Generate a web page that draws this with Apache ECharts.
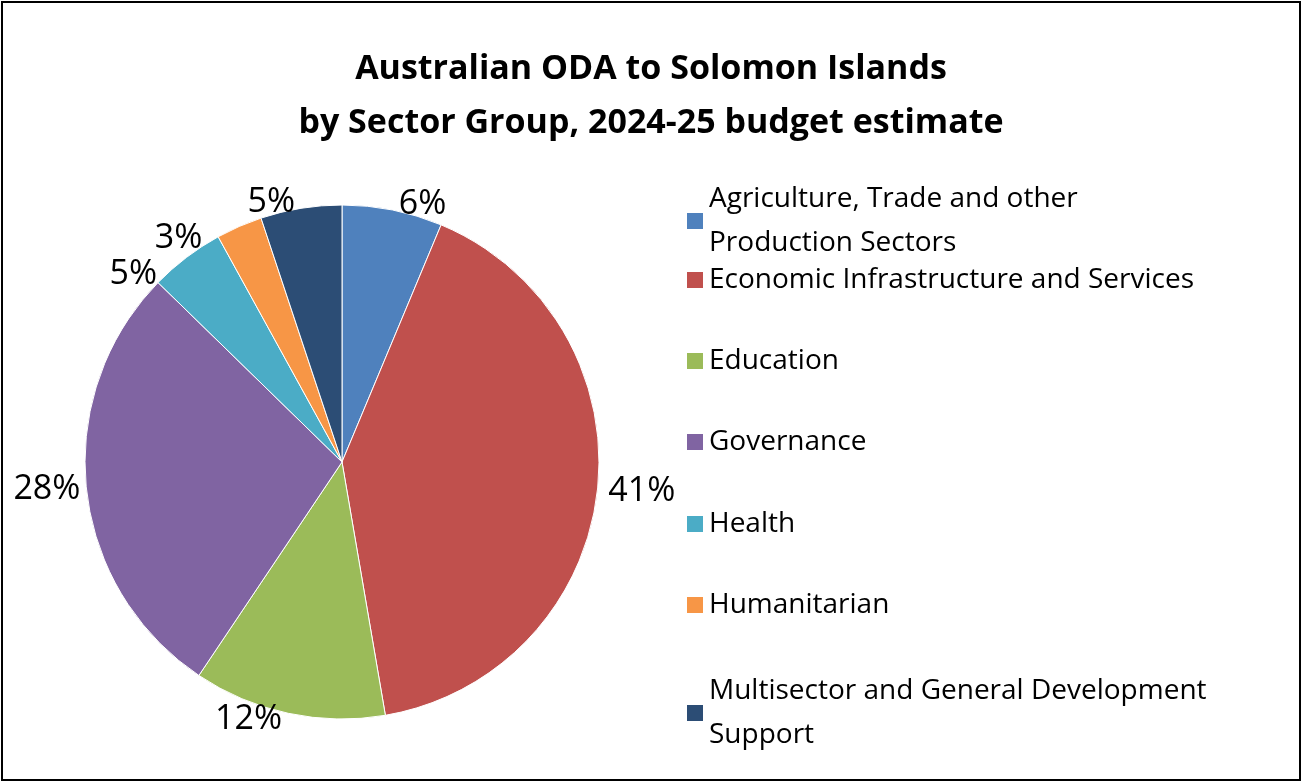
<!DOCTYPE html>
<html><head><meta charset="utf-8">
<script src="https://cdn.jsdelivr.net/npm/echarts@6/dist/echarts.min.js"></script>
<style>
html,body{margin:0;padding:0;background:#fff}
#chart{position:absolute;left:1px;top:1px;width:1296px;height:776px;border:2px solid #000}
</style></head><body>
<div id="chart"></div>
<script>
var categories = ['Agriculture, Trade and other\nProduction Sectors', 'Economic Infrastructure and Services', 'Education', 'Governance', 'Health', 'Humanitarian', 'Multisector and General Development\nSupport'];
var values = [6.3, 41.0, 12.1, 27.9, 4.7, 2.9, 5.1];
var colors = ['#4F81BD', '#C0504D', '#9BBB59', '#8064A2', '#4BACC6', '#F79646', '#2C4D75'];
var legendTops = [169, 250, 331, 412, 494, 575, 661];

var font = 'Open Sans, Noto Sans, sans-serif';
var data = [];
for (var i = 0; i < categories.length; i++) {
    data.push({ name: categories[i], value: values[i], itemStyle: { color: colors[i] } });
}
var legends = [];
for (var j = 0; j < categories.length; j++) {
    legends.push({
        data: [categories[j]], left: 677, top: legendTops[j], orient: 'vertical',
        itemWidth: 18, itemHeight: 18, icon: 'rect',
        textStyle: { fontSize: 28, fontFamily: font, color: '#000', lineHeight: 44 }
    });
}
var myChart = echarts.init(document.getElementById('chart'));
myChart.setOption({
    animation: false,
    title: {
        text: 'Australian ODA to Solomon Islands\nby Sector Group, 2024-25 budget estimate',
        left: 'center', top: 34,
        textStyle: { fontSize: 34, fontWeight: 'bold', fontFamily: font, color: '#000', lineHeight: 54 }
    },
    legend: legends,
    series: [{
        type: 'pie',
        center: [339, 459],
        radius: 257,
        startAngle: 90,
        clockwise: true,
        data: data,
        itemStyle: { borderColor: '#fff', borderWidth: 1 },
        label: {
            show: true, position: 'outside', distance: 12,
            fontSize: 34, fontFamily: font, color: '#000',
            formatter: function (p) { return Math.round(p.percent) + '%'; }
        },
        labelLine: { show: false, length: 6, length2: 0 }
    }]
});
</script>
</body></html>
